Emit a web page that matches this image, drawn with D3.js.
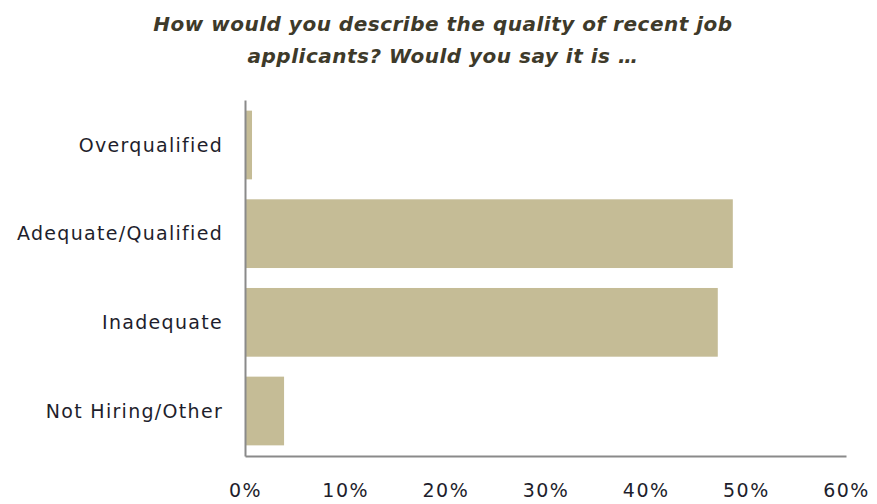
<!DOCTYPE html>
<html>
<head>
<meta charset="utf-8">
<script src="https://cdn.jsdelivr.net/npm/d3@7"></script>
<style>
  html, body { margin: 0; padding: 0; background: #fff; }
  svg { display: block; }
</style>
</head>
<body>
<script>
// Survey responses: share of respondents per answer (percent)
const categories = ["Overqualified", "Adequate/Qualified", "Inadequate", "Not Hiring/Other"];
const values = [0.7, 48.7, 47.2, 3.9];
const tickValues = [0, 10, 20, 30, 40, 50, 60];
const titleLines = [
  "How would you describe the quality of recent job",
  "applicants? Would you say it is \u2026"
];

const W = 877, H = 504;
const margin = { left: 245, right: 31, top: 100, bottom: 48 };

const svg = d3.select("body").append("svg")
  .attr("width", W)
  .attr("height", H);

const x = d3.scaleLinear()
  .domain([0, 60])
  .range([margin.left, W - margin.right]);

const y = d3.scaleBand()
  .domain(categories)
  .range([margin.top, H - margin.bottom])
  .paddingInner(0.225)
  .paddingOuter(0.12);

const font = "'DejaVu Sans', 'Noto Sans', sans-serif";

// Title
svg.append("g")
  .selectAll("text")
  .data(titleLines)
  .join("text")
  .attr("x", 443)
  .attr("y", (d, i) => 31 + i * 32)
  .attr("text-anchor", "middle")
  .attr("font-family", font)
  .attr("font-weight", "bold")
  .attr("font-style", "italic")
  .attr("font-size", 20)
  .attr("letter-spacing", 0.5)
  .attr("fill", "#3e3a2a")
  .text(d => d);

// Bars
svg.append("g")
  .selectAll("rect")
  .data(categories)
  .join("rect")
  .attr("x", x(0))
  .attr("y", d => y(d))
  .attr("width", (d, i) => x(values[i]) - x(0))
  .attr("height", y.bandwidth())
  .attr("fill", "#c5bc96");

// Category labels
svg.append("g")
  .selectAll("text")
  .data(categories)
  .join("text")
  .attr("x", 223)
  .attr("y", d => y(d) + y.bandwidth() / 2)
  .attr("dy", "0.35em")
  .attr("text-anchor", "end")
  .attr("font-family", font)
  .attr("font-size", 19)
  .attr("letter-spacing", 1.3)
  .attr("fill", "#1e1e2c")
  .text(d => d);

// X axis
const xAxis = d3.axisBottom(x)
  .tickValues(tickValues)
  .tickSize(0)
  .tickPadding(28)
  .tickFormat(d => d + "%");

const gx = svg.append("g")
  .attr("transform", `translate(0,${H - margin.bottom})`)
  .call(xAxis);
gx.select(".domain").attr("stroke", "#8a8a8a").attr("stroke-width", 2);
gx.selectAll("text")
  .attr("font-family", font)
  .attr("font-size", 19)
  .attr("letter-spacing", 1.5)
  .attr("fill", "#1e1e2c");

// Y axis line
const yAxis = d3.axisLeft(y).tickSize(0).tickFormat("");
const gy = svg.append("g")
  .attr("transform", `translate(${margin.left},0)`)
  .call(yAxis);
gy.select(".domain").attr("stroke", "#8a8a8a").attr("stroke-width", 2);
</script>
</body>
</html>
